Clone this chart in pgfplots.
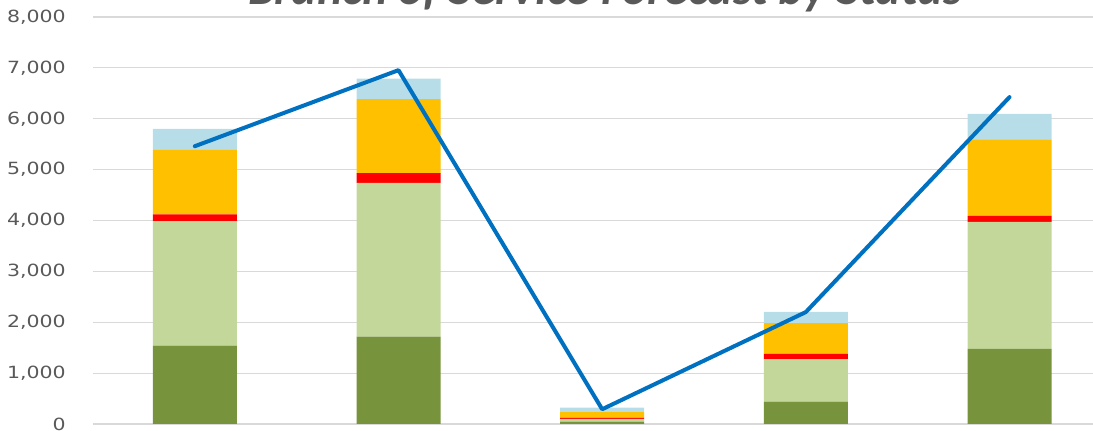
\documentclass[border=0pt]{standalone}
\usepackage{pgfplots}
\pgfplotsset{compat=1.18}
\usepackage{fontspec}
\newfontfamily\tickfont[FakeStretch=1.22]{DejaVu Sans}
\newfontfamily\titlefont{Carlito}
\definecolor{dkgreen}{HTML}{77933C}
\definecolor{ltgreen}{HTML}{C4D79B}
\definecolor{myred}{HTML}{FF0000}
\definecolor{myorange}{HTML}{FFC000}
\definecolor{ltblue}{HTML}{B7DEE8}
\definecolor{lineblue}{HTML}{0070C0}
\definecolor{gridgray}{HTML}{D9D9D9}
\definecolor{txtgray}{HTML}{595959}
\pgfplotsset{
  common/.style={
    at={(69.75pt,5.25pt)}, anchor=south west, scale only axis,
    width=750pt, height=305.25pt,
    xmin=-0.5, xmax=4.41, ymin=0, ymax=8000,
    axis line style={draw=none}, major tick length=0pt,
    xtick=\empty,
  }
}
\begin{document}
\begin{tikzpicture}[x=1pt,y=1pt]
\path[use as bounding box, clip] (0,0) rectangle (819.75,323.25);
\begin{axis}[common,
  ytick={0,1000,2000,3000,4000,5000,6000,7000,8000},
  yticklabels={0,{1,000},{2,000},{3,000},{4,000},{5,000},{6,000},{7,000},{8,000}},
  ymajorgrids, grid style={color=gridgray, line width=0.9pt},
  yticklabel style={anchor=east, inner sep=0pt, xshift=-20.25pt,
    font=\tickfont\fontsize{12.6pt}{14pt}\selectfont, text=txtgray},
  ybar stacked, bar width=63pt,
]
\addplot[fill=dkgreen, draw=none] coordinates {(0,1540) (1,1715) (2,45) (3,440) (4,1475)};
\addplot[fill=ltgreen, draw=none] coordinates {(0,2450) (1,3025) (2,55) (3,837) (4,2500)};
\addplot[fill=myred, draw=none] coordinates {(0,130) (1,190) (2,20) (3,103) (4,115)};
\addplot[fill=myorange, draw=none] coordinates {(0,1270) (1,1455) (2,115) (3,605) (4,1505)};
\addplot[fill=ltblue, draw=none] coordinates {(0,410) (1,405) (2,85) (3,220) (4,500)};
\end{axis}
\begin{axis}[common, ytick=\empty]
\addplot[lineblue, line width=3pt, line join=round, line cap=round, mark=none] coordinates {(0,5460) (1,6955) (2,290) (3,2200) (4,6425)};
\end{axis}
\node[anchor=base, font=\titlefont\bfseries\itshape\fontsize{36pt}{38pt}\selectfont, text=txtgray] at (453.75,319.5) {Branch of Service Forecast by Status};
\end{tikzpicture}
\end{document}
